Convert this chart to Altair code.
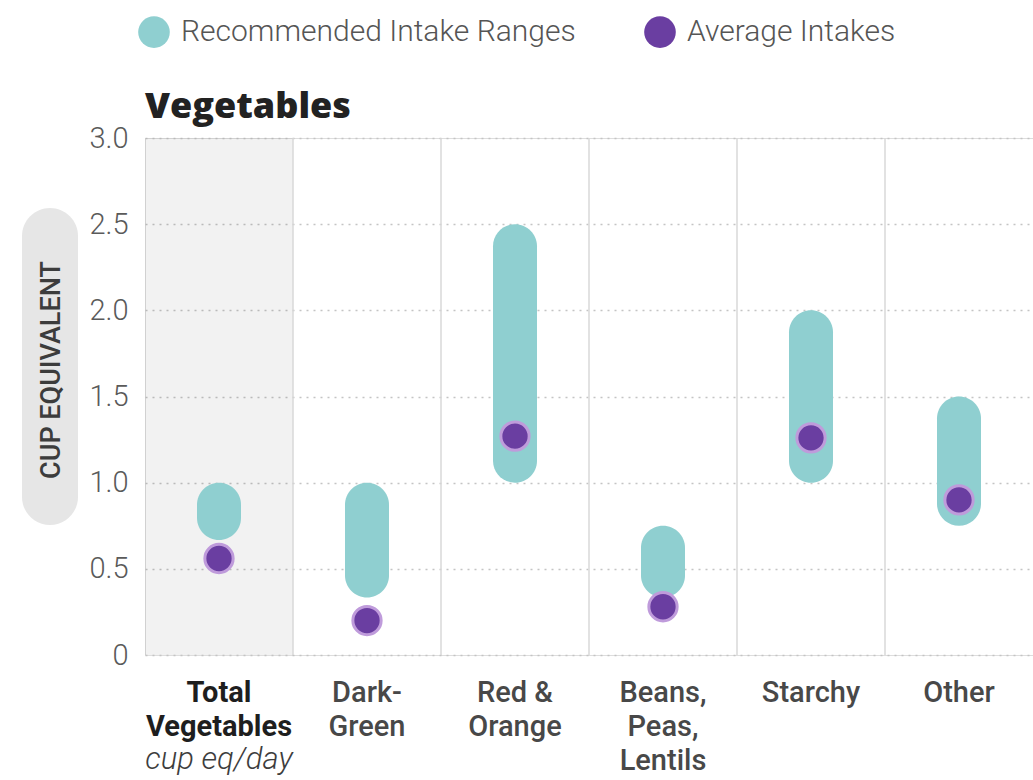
import altair as alt
import pandas as pd

# Vegetable subgroups (x categories) and their axis labels
categories = ["Total Vegetables", "Dark-Green", "Red & Orange",
              "Beans, Peas, Lentils", "Starchy", "Other"]
labels = ["Total\nVegetables", "Dark-\nGreen", "Red &\nOrange",
          "Beans,\nPeas,\nLentils", "Starchy", "Other"]

# Recommended intake ranges (cup equivalents)
rec_low = [2 / 3, 1 / 3, 1.0, 1 / 3, 1.0, 0.75]
rec_high = [1.0, 1.0, 2.5, 0.75, 2.0, 1.5]

# Average intakes (cup equivalents)
avg_intake = [0.56, 0.20, 1.27, 0.28, 1.26, 0.90]

SERIES = ["Recommended Intake Ranges", "Average Intakes"]
TEAL = "#8fcfd0"
PURPLE = "#6a3ea1"

W, H = 888, 517

df = pd.DataFrame({
    "cat": categories,
    "label": labels,
    "low": rec_low,
    "high": rec_high,
    "avg": avg_intake,
    "rec_series": SERIES[0],
    "avg_series": SERIES[1],
})

x = alt.X("cat:N", sort=categories,
          scale=alt.Scale(paddingInner=0, paddingOuter=0),
          axis=None)
y_scale = alt.Scale(domain=[0, 3], nice=False, zero=True)
color_scale = alt.Scale(domain=SERIES, range=[TEAL, PURPLE])

base = alt.Chart(df)

# shaded column behind the total
shade = base.mark_rect(color="#000000", opacity=0.05).encode(
    x=x,
    y=alt.value(0),
    y2=alt.value(H),
).transform_filter(alt.datum.cat == categories[0])

# vertical separators between columns
separators = base.mark_rule(color="#d9d9d9", strokeWidth=1.5).encode(
    x=alt.X("cat:N", sort=categories, bandPosition=0,
            scale=alt.Scale(paddingInner=0, paddingOuter=0), axis=None),
    y=alt.value(0),
    y2=alt.value(H),
).transform_filter(alt.datum.cat != categories[0])

ranges = base.mark_bar(width=44, cornerRadius=22).encode(
    x=x,
    y=alt.Y("low:Q", scale=y_scale, axis=alt.Axis(
        values=[0, 0.5, 1, 1.5, 2, 2.5, 3],
        labelExpr="datum.value == 0 ? '0' : format(datum.value, '.1f')",
        title=None, ticks=False, domain=False,
        labelPadding=17, labelFontSize=29, labelFont="Roboto",
        labelFontWeight=300, labelColor="#5a5a5a",
        grid=True, gridColor="#c4c4c4", gridDash=[2, 5], gridWidth=1.5,
    )),
    y2="high:Q",
    color=alt.Color("rec_series:N", scale=color_scale, legend=alt.Legend(
        title=None, orient="none", legendX=-7, legendY=-122,
        direction="horizontal", symbolType="circle", symbolSize=1000,
        symbolStrokeWidth=0, labelFontSize=30, labelFont="Roboto",
        labelFontWeight=300, labelColor="#555555", labelOffset=11,
        labelLimit=0, columnPadding=68, padding=0,
    )),
)

dots = base.mark_point(filled=True, size=800, opacity=1,
                       stroke="#bf9bdb", strokeWidth=3).encode(
    x=x,
    y=alt.Y("avg:Q", scale=y_scale),
    color=alt.Color("avg_series:N", scale=color_scale),
)

# category labels under the columns
xlabels = base.mark_text(lineBreak="\n", lineHeight=34, baseline="alphabetic",
                         fontSize=29, font="Roboto", fontWeight=500,
                         color="#484848").encode(
    x=x, y=alt.value(564), text="label:N",
).transform_filter(alt.datum.cat != categories[0])

total_label = base.mark_text(lineBreak="\n", lineHeight=34, baseline="alphabetic",
                             fontSize=29, font="Roboto", fontWeight="bold",
                             color="#1e1e1e").encode(
    x=x, y=alt.value(564), text="label:N",
).transform_filter(alt.datum.cat == categories[0])

unit_label = base.mark_text(baseline="alphabetic", fontSize=31, font="Roboto",
                            fontWeight=300, fontStyle="italic",
                            color="#3d3d3d").encode(
    x=x, y=alt.value(631), text=alt.value("cup eq/day"),
).transform_filter(alt.datum.cat == categories[0])

# y-axis title on a rounded pill
pill = base.mark_rect(color="#e6e6e6", cornerRadius=28).encode(
    x=alt.value(-123), x2=alt.value(-67),
    y=alt.value(70), y2=alt.value(387),
).transform_filter(alt.datum.cat == categories[0])

pill_text = base.mark_text(angle=270, fontSize=27, font="Roboto",
                           fontWeight=500, color="#3c3c3c").encode(
    x=alt.value(-93), y=alt.value(232), text=alt.value("CUP EQUIVALENT"),
).transform_filter(alt.datum.cat == categories[0])

title = base.mark_text(align="left", baseline="alphabetic", fontSize=36,
                       font="Open Sans", fontWeight=800, color="#222222").encode(
    x=alt.value(0), y=alt.value(-20), text=alt.value("Vegetables"),
).transform_filter(alt.datum.cat == categories[0])

chart = alt.layer(
    shade, separators, ranges, dots, xlabels, total_label, unit_label,
    pill, pill_text, title,
).properties(
    width=W, height=H,
    autosize=alt.AutoSizeParams(type="none"),
    padding={"left": 145, "top": 138, "right": 0, "bottom": 125},
).configure_view(stroke=None).configure(background="white")

chart.save("out.html", embed_options={"renderer": "svg", "actions": False})
